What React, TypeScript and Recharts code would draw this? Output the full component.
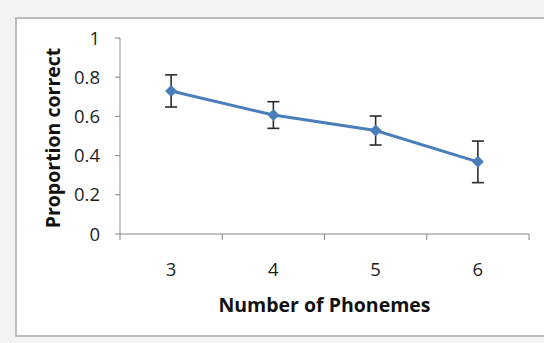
import React from "react";
import { LineChart, Line, XAxis, YAxis, ErrorBar } from "recharts";

const PHONEMES = [3, 4, 5, 6];
const PROPORTION = [0.73, 0.607, 0.528, 0.368];
const ERROR = [0.082, 0.068, 0.074, 0.106];
const Y_TICKS = [0, 0.2, 0.4, 0.6, 0.8, 1];
const X_TICKS = [2.5, 3, 3.5, 4, 4.5, 5, 5.5, 6, 6.5];

const data = PHONEMES.map((n, i) => ({ n, p: PROPORTION[i], err: ERROR[i] }));

const FONT = "'Open Sans', sans-serif";
const AXIS = "#868686";
const BLUE = "#4a7ebb";
const TEXT = "#1e1e1e";

type VB = { x: number; y: number; width: number; height: number };

function XTick({ x, y, payload }: { x?: number; y?: number; payload?: { value: number } }) {
  const v = payload?.value ?? 0;
  if (Number.isInteger(v)) {
    return (
      <text x={x} y={(y ?? 0) + 36} textAnchor="middle" fontFamily={FONT} fontSize={18.5} fill={TEXT}>
        {v}
      </text>
    );
  }
  return <line x1={x} x2={x} y1={(y ?? 0) - 6} y2={y} stroke={AXIS} strokeWidth={1} />;
}

function YTick({ x, y, payload }: { x?: number; y?: number; payload?: { value: number } }) {
  return (
    <text x={x} y={(y ?? 0) + 6.5} textAnchor="end" fontFamily={FONT} fontSize={18.5} fill={TEXT}>
      {payload?.value}
    </text>
  );
}

function XLabel({ viewBox }: { viewBox?: VB }) {
  if (!viewBox) return null;
  return (
    <text
      x={viewBox.x + viewBox.width / 2}
      y={viewBox.y + 78}
      textAnchor="middle"
      fontFamily={FONT}
      fontSize={19.5}
      fontWeight={700}
      fill="#111"
    >
      Number of Phonemes
    </text>
  );
}

function YLabel({ viewBox }: { viewBox?: VB }) {
  if (!viewBox) return null;
  const cx = viewBox.x;
  const cy = viewBox.y + viewBox.height / 2 + 2;
  return (
    <text
      x={cx}
      y={cy}
      transform={`rotate(-90, ${cx}, ${cy})`}
      textAnchor="middle"
      fontFamily={FONT}
      fontSize={19.5}
      fontWeight={700}
      fill="#111"
    >
      Proportion correct
    </text>
  );
}

function Diamond({ cx, cy }: { cx?: number; cy?: number }) {
  if (cx == null || cy == null) return null;
  const r = 6;
  return (
    <path
      key={`d-${cx}`}
      d={`M${cx},${cy - r}L${cx + r},${cy}L${cx},${cy + r}L${cx - r},${cy}Z`}
      fill={BLUE}
    />
  );
}

export default function App() {
  return (
    <div style={{ position: "absolute", left: 0, top: 0, width: 544, height: 343, background: "#f3f3f3" }}>
      <div
        style={{
          position: "absolute",
          left: 15,
          top: 17,
          width: 540,
          height: 316,
          border: "2px solid #bcbcbc",
          background: "#fff",
        }}
      />
      <div style={{ position: "absolute", left: 0, top: 0 }}>
        <LineChart width={544} height={343} data={data} margin={{ top: 38, right: 15, bottom: 39, left: 60 }}>
          <XAxis
            dataKey="n"
            type="number"
            domain={[2.5, 6.5]}
            ticks={X_TICKS}
            interval={0}
            tick={<XTick />}
            tickLine={false}
            tickSize={6}
            tickMargin={0}
            height={70}
            axisLine={{ stroke: AXIS }}
            label={<XLabel />}
          />
          <YAxis
            domain={[0, 1]}
            ticks={Y_TICKS}
            interval={0}
            width={60}
            tickSize={5}
            tickMargin={15}
            tickLine={{ stroke: AXIS }}
            axisLine={{ stroke: AXIS }}
            tick={<YTick />}
            label={<YLabel />}
          />
          <Line
            dataKey="p"
            stroke={BLUE}
            strokeWidth={3}
            dot={<Diamond />}
            activeDot={false}
            isAnimationActive={false}
          >
            <ErrorBar dataKey="err" direction="y" width={6} strokeWidth={1.6} stroke="#2b2b2b" />
          </Line>
        </LineChart>
      </div>
    </div>
  );
}
